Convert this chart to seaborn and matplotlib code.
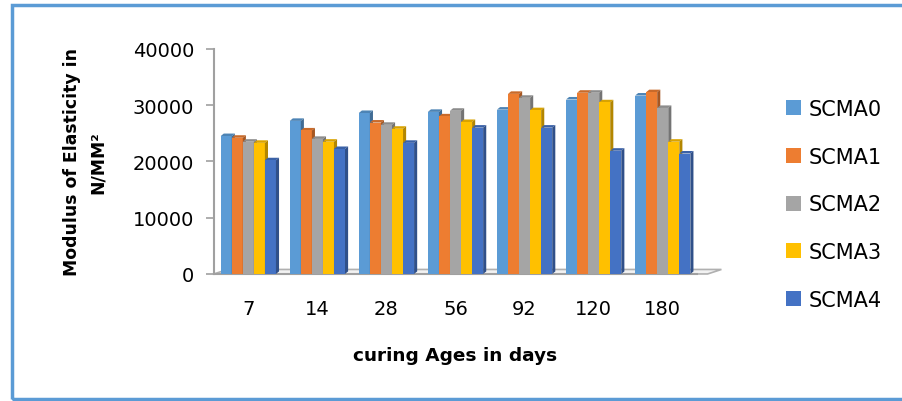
import numpy as np
import pandas as pd
import matplotlib
matplotlib.use("Agg")
import matplotlib.pyplot as plt
import matplotlib.colors as mcolors
from matplotlib.patches import Polygon, Rectangle
import seaborn as sns

ages = ["7", "14", "28", "56", "92", "120", "180"]
scma0 = [24500, 27200, 28600, 28800, 29200, 31000, 31700]
scma1 = [24200, 25500, 26900, 28000, 32000, 32200, 32300]
scma2 = [23500, 24000, 26500, 29000, 31300, 32200, 29500]
scma3 = [23300, 23500, 25800, 27000, 29100, 30500, 23500]
scma4 = [20200, 22200, 23300, 26000, 26000, 21900, 21400]
series_names = ["SCMA0", "SCMA1", "SCMA2", "SCMA3", "SCMA4"]
colors = ["#5B9BD5", "#ED7D31", "#A5A5A5", "#FFC000", "#4472C4"]

rows = []
for name, vals in zip(series_names, [scma0, scma1, scma2, scma3, scma4]):
    for age, v in zip(ages, vals):
        rows.append({"age": age, "series": name, "value": v})
df = pd.DataFrame(rows)

sns.set_style("white")
plt.rcParams["font.family"] = ["DejaVu Sans"]
plt.rcParams["text.color"] = "black"
plt.rcParams["axes.labelcolor"] = "black"
plt.rcParams["xtick.color"] = "black"
plt.rcParams["ytick.color"] = "black"

fig = plt.figure(figsize=(9.02, 4.02), dpi=100)
ax = fig.add_axes([0.237, 0.316, 0.536, 0.56])

sns.barplot(data=df, x="age", y="value", hue="series", order=ages,
            hue_order=series_names, palette=colors, width=0.8,
            saturation=1, linewidth=0, ax=ax, legend=True)

# fake 3D look: darker side and top faces
dx = 0.045
dy = 450
for k, cont in enumerate(ax.containers):
    base = np.array(mcolors.to_rgb(colors[k]))
    for p in cont.patches:
        p.set_zorder(3 + k)
        x0 = p.get_x()
        w = p.get_width()
        h = p.get_height()
        side = Polygon([[x0 + w, 0], [x0 + w + dx, dy], [x0 + w + dx, h + dy], [x0 + w, h]],
                       closed=True, facecolor=base * 0.7, edgecolor="none", zorder=3 + k + 0.4)
        top = Polygon([[x0, h], [x0 + dx, h + dy], [x0 + w + dx, h + dy], [x0 + w, h]],
                      closed=True, facecolor=base * 0.85, edgecolor="none", zorder=3 + k - 0.1)
        ax.add_patch(side)
        ax.add_patch(top)

# floor
floor = Polygon([[-0.5, 0], [-0.3, 800], [6.85, 800], [6.65, 0]], closed=True,
                facecolor="#F2F2F2", edgecolor="#B0B0B0", linewidth=1.2, zorder=1,
                clip_on=False)
ax.add_patch(floor)

ax.set_xlim(-0.5, 6.5)
ax.set_ylim(0, 40000)
ax.set_yticks([0, 10000, 20000, 30000, 40000])
ax.tick_params(axis="y", labelsize=14, length=6, width=1.2, color="#A0A0A0",
               direction="out", left=True, pad=8)
ax.tick_params(axis="x", labelsize=14, length=0, pad=18)
for s in ["top", "right"]:
    ax.spines[s].set_visible(False)
ax.spines["left"].set_color("#A0A0A0")
ax.spines["bottom"].set_color("#A0A0A0")
ax.spines["left"].set_linewidth(1.5)
ax.spines["bottom"].set_linewidth(1.5)

ax.set_xlabel("curing Ages in days", fontsize=13.3, fontweight="bold", labelpad=20)
ax.set_ylabel("Modulus of Elasticity in\nN/MM²", fontsize=12.4, fontweight="bold",
              linespacing=1.5)
ax.yaxis.set_label_coords(-0.222, 0.5)

handles, labels = ax.get_legend_handles_labels()
ax.get_legend().remove()
fig.legend(handles, labels, loc="upper left", bbox_to_anchor=(0.862, 0.772),
           frameon=False, fontsize=15, handlelength=0.75, handleheight=0.75,
           handletextpad=0.35, labelspacing=1.33, borderaxespad=0)

fig.patches.append(Rectangle((0.0135, 0.005), 1.2, 0.98, transform=fig.transFigure,
                             fill=False, edgecolor="#5B9BD5", linewidth=2.5))

fig.savefig("out.png", dpi=100)
